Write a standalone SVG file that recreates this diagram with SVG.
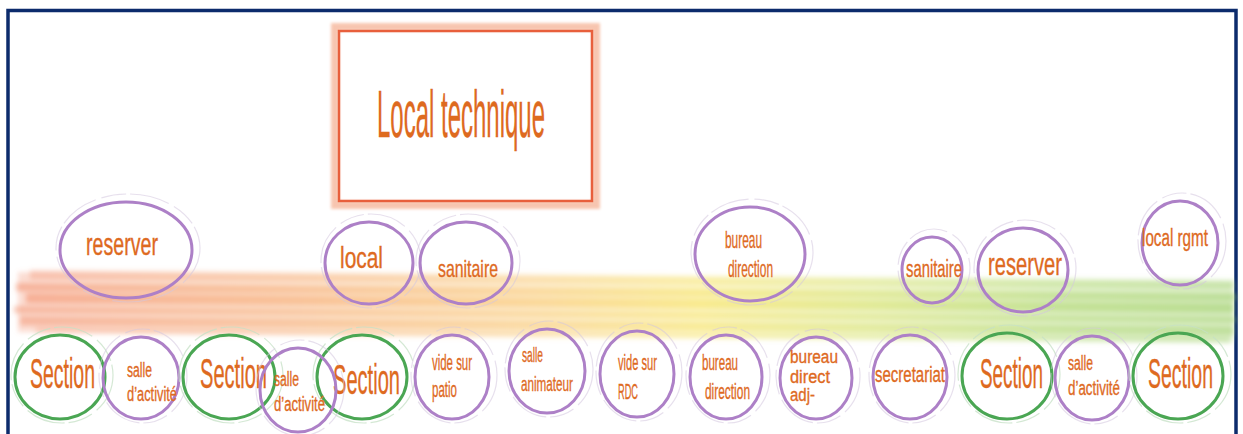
<svg xmlns="http://www.w3.org/2000/svg" width="1243" height="434" viewBox="0 0 1243 434">
<defs>
<linearGradient id="bandGrad" x1="0" y1="0" x2="1" y2="0">
<stop offset="0" stop-color="#f28a66"/>
<stop offset="0.22" stop-color="#f5a468"/>
<stop offset="0.42" stop-color="#f8c56c"/>
<stop offset="0.56" stop-color="#f5e05a"/>
<stop offset="0.7" stop-color="#d3e066"/>
<stop offset="0.85" stop-color="#a9d465"/>
<stop offset="1" stop-color="#98cc60"/>
</linearGradient>
<filter id="blur" x="-5%" y="-50%" width="110%" height="200%"><feGaussianBlur stdDeviation="2.5"/></filter>
<filter id="soft" x="-10%" y="-10%" width="120%" height="120%"><feGaussianBlur stdDeviation="1.5"/></filter>
<style>
.t{font-family:"Liberation Sans Narrow","Liberation Sans",Arial,sans-serif;fill:#de6a1f;stroke:#de6a1f;stroke-width:0.35;}
.p{fill:none;stroke:#ad80c7;stroke-width:3;}
.g{fill:none;stroke:#4aa653;stroke-width:3;}
.hp{fill:none;stroke:#d3c7de;stroke-width:1.2;opacity:.55;stroke-dasharray:40 6 25 4;}
.hg{fill:none;stroke:#c6e0c6;stroke-width:1.2;opacity:.75;stroke-dasharray:40 6 25 4;}
</style>
</defs>
<rect width="1243" height="434" fill="#ffffff"/>
<rect x="8" y="10.5" width="1228" height="440" fill="none" stroke="#0c2b6c" stroke-width="3.5"/>

<g id="band" transform="skewY(0.47)" filter="url(#blur)">
<rect x="18" y="272" width="1215" height="60" fill="url(#bandGrad)" opacity=".3"/>
<rect x="30" y="270" width="1204" height="9" fill="url(#bandGrad)" opacity=".35"/>
<rect x="16" y="283" width="1220" height="8" fill="url(#bandGrad)" opacity=".5"/>
<rect x="26" y="293" width="1208" height="10" fill="url(#bandGrad)" opacity=".55"/>
<rect x="14" y="306" width="1222" height="7" fill="url(#bandGrad)" opacity=".45"/>
<rect x="20" y="316" width="1214" height="9" fill="url(#bandGrad)" opacity=".45"/>
<rect x="36" y="327" width="1194" height="6" fill="url(#bandGrad)" opacity=".3"/>
</g>

<g id="local-technique">
<rect x="335" y="27" width="261" height="178" fill="none" stroke="#f3a07c" stroke-width="8" opacity=".6" filter="url(#soft)"/>
<rect x="339" y="31" width="253" height="170" fill="none" stroke="#e85f3c" stroke-width="2.5"/>
<text class="t" x="377" y="137" font-size="66" textLength="168" lengthAdjust="spacingAndGlyphs">Local technique</text>
</g>

<g id="n-reserver-1">
<ellipse class="hp" cx="128" cy="248" rx="72" ry="54"/>
<ellipse class="p" cx="126" cy="250" rx="66" ry="48"/>
<text class="t" x="86" y="255" font-size="31" textLength="72" lengthAdjust="spacingAndGlyphs">reserver</text>
</g>
<g id="n-local">
<ellipse class="hp" cx="371" cy="261" rx="50" ry="47"/>
<ellipse class="p" cx="369" cy="263" rx="44" ry="41"/>
<text class="t" x="340" y="268" font-size="30" textLength="43" lengthAdjust="spacingAndGlyphs">local</text>
</g>
<g id="n-sanitaire-1">
<ellipse class="hp" cx="468" cy="261" rx="52" ry="47"/>
<ellipse class="p" cx="466" cy="263" rx="46" ry="41"/>
<text class="t" x="438" y="277" font-size="24" textLength="60" lengthAdjust="spacingAndGlyphs">sanitaire</text>
</g>
<g id="n-bureau-direction-1">
<ellipse class="hp" cx="752" cy="252" rx="61" ry="53"/>
<ellipse class="p" cx="750" cy="254" rx="55" ry="47"/>
<text class="t" x="725" y="248" font-size="24" textLength="37" lengthAdjust="spacingAndGlyphs">bureau</text>
<text class="t" x="728" y="277" font-size="24" textLength="45" lengthAdjust="spacingAndGlyphs">direction</text>
</g>
<g id="n-sanitaire-2">
<ellipse class="hp" cx="934" cy="268" rx="36" ry="39"/>
<ellipse class="p" cx="932" cy="270" rx="30" ry="33"/>
<text class="t" x="906" y="277" font-size="23" textLength="56" lengthAdjust="spacingAndGlyphs">sanitaire</text>
</g>
<g id="n-reserver-2">
<ellipse class="hp" cx="1025" cy="268" rx="51" ry="48"/>
<ellipse class="p" cx="1023" cy="270" rx="45" ry="42"/>
<text class="t" x="988" y="275" font-size="32" textLength="74" lengthAdjust="spacingAndGlyphs">reserver</text>
</g>
<g id="n-local-rgmt">
<ellipse class="hp" cx="1182" cy="241" rx="44" ry="48"/>
<ellipse class="p" cx="1180" cy="243" rx="38" ry="42"/>
<text class="t" x="1142" y="246" font-size="23" textLength="66" lengthAdjust="spacingAndGlyphs">local rgmt</text>
</g>

<g id="n-section-1">
<ellipse class="hg" cx="62" cy="375" rx="51" ry="48"/>
<ellipse class="g" cx="60" cy="377" rx="45" ry="42"/>
<text class="t" x="30" y="388" font-size="43" textLength="65" lengthAdjust="spacingAndGlyphs">Section</text>
</g>
<g id="n-salle-activite-1">
<ellipse class="hp" cx="143" cy="376" rx="44" ry="47"/>
<ellipse class="p" cx="141" cy="378" rx="38" ry="41"/>
<text class="t" x="127" y="377" font-size="20" textLength="25" lengthAdjust="spacingAndGlyphs">salle</text>
<text class="t" x="127" y="401" font-size="20" textLength="50" lengthAdjust="spacingAndGlyphs">d’activité</text>
</g>
<g id="n-section-2">
<ellipse class="hg" cx="231" cy="375" rx="52" ry="48"/>
<ellipse class="g" cx="229" cy="377" rx="46" ry="42"/>
<text class="t" x="200" y="388" font-size="43" textLength="67" lengthAdjust="spacingAndGlyphs">Section</text>
</g>
<g id="n-section-3">
<ellipse class="hg" cx="364" cy="375" rx="51" ry="48"/>
<ellipse class="g" cx="362" cy="377" rx="45" ry="42"/>
<text class="t" x="333" y="394" font-size="43" textLength="67" lengthAdjust="spacingAndGlyphs">Section</text>
</g>
<g id="n-salle-activite-2">
<ellipse class="hp" cx="300" cy="388" rx="44" ry="48"/>
<ellipse class="p" cx="298" cy="390" rx="38" ry="42"/>
<text class="t" x="274" y="386" font-size="20" textLength="25" lengthAdjust="spacingAndGlyphs">salle</text>
<text class="t" x="274" y="411" font-size="20" textLength="51" lengthAdjust="spacingAndGlyphs">d’activité</text>
</g>
<g id="n-vide-patio">
<ellipse class="hp" cx="454" cy="375" rx="43" ry="48"/>
<ellipse class="p" cx="452" cy="377" rx="37" ry="42"/>
<text class="t" x="432" y="370" font-size="22" textLength="40" lengthAdjust="spacingAndGlyphs">vide sur</text>
<text class="t" x="432" y="397" font-size="22" textLength="25" lengthAdjust="spacingAndGlyphs">patio</text>
</g>
<g id="n-salle-animateur">
<ellipse class="hp" cx="549" cy="369" rx="44" ry="48"/>
<ellipse class="p" cx="547" cy="371" rx="38" ry="42"/>
<text class="t" x="522" y="362" font-size="21" textLength="21" lengthAdjust="spacingAndGlyphs">salle</text>
<text class="t" x="521" y="391" font-size="21" textLength="52" lengthAdjust="spacingAndGlyphs">animateur</text>
</g>
<g id="n-vide-rdc">
<ellipse class="hp" cx="639" cy="372" rx="43" ry="49"/>
<ellipse class="p" cx="637" cy="374" rx="37" ry="43"/>
<text class="t" x="618" y="370" font-size="22" textLength="39" lengthAdjust="spacingAndGlyphs">vide sur</text>
<text class="t" x="618" y="399" font-size="22" textLength="20" lengthAdjust="spacingAndGlyphs">RDC</text>
</g>
<g id="n-bureau-direction-2">
<ellipse class="hp" cx="728" cy="375" rx="42" ry="48"/>
<ellipse class="p" cx="726" cy="377" rx="36" ry="42"/>
<text class="t" x="702" y="370" font-size="22" textLength="36" lengthAdjust="spacingAndGlyphs">bureau</text>
<text class="t" x="705" y="399" font-size="22" textLength="45" lengthAdjust="spacingAndGlyphs">direction</text>
</g>
<g id="n-bureau-direct-adj">
<ellipse class="hp" cx="818" cy="376" rx="42" ry="47"/>
<ellipse class="p" cx="816" cy="378" rx="36" ry="41"/>
<text class="t" font-family="'Liberation Sans',Arial,sans-serif" x="790" y="363" font-size="18" textLength="48" lengthAdjust="spacingAndGlyphs">bureau</text>
<text class="t" font-family="'Liberation Sans',Arial,sans-serif" x="790" y="383" font-size="18" textLength="40" lengthAdjust="spacingAndGlyphs">direct</text>
<text class="t" font-family="'Liberation Sans',Arial,sans-serif" x="790" y="401" font-size="18" textLength="25" lengthAdjust="spacingAndGlyphs">adj-</text>
</g>
<g id="n-secretariat">
<ellipse class="hp" cx="912" cy="375" rx="43" ry="48"/>
<ellipse class="p" cx="910" cy="377" rx="37" ry="42"/>
<text class="t" x="875" y="382" font-size="22" textLength="70" lengthAdjust="spacingAndGlyphs">secretariat</text>
</g>
<g id="n-section-4">
<ellipse class="hg" cx="1009" cy="374" rx="51" ry="49"/>
<ellipse class="g" cx="1007" cy="376" rx="45" ry="43"/>
<text class="t" x="980" y="388" font-size="43" textLength="63" lengthAdjust="spacingAndGlyphs">Section</text>
</g>
<g id="n-salle-activite-3">
<ellipse class="hp" cx="1094" cy="376" rx="43" ry="48"/>
<ellipse class="p" cx="1092" cy="378" rx="37" ry="42"/>
<text class="t" x="1068" y="370" font-size="20" textLength="25" lengthAdjust="spacingAndGlyphs">salle</text>
<text class="t" x="1068" y="395" font-size="20" textLength="52" lengthAdjust="spacingAndGlyphs">d’activité</text>
</g>
<g id="n-section-5">
<ellipse class="hg" cx="1180" cy="374" rx="51" ry="49"/>
<ellipse class="g" cx="1178" cy="376" rx="45" ry="43"/>
<text class="t" x="1148" y="388" font-size="43" textLength="65" lengthAdjust="spacingAndGlyphs">Section</text>
</g>
</svg>
